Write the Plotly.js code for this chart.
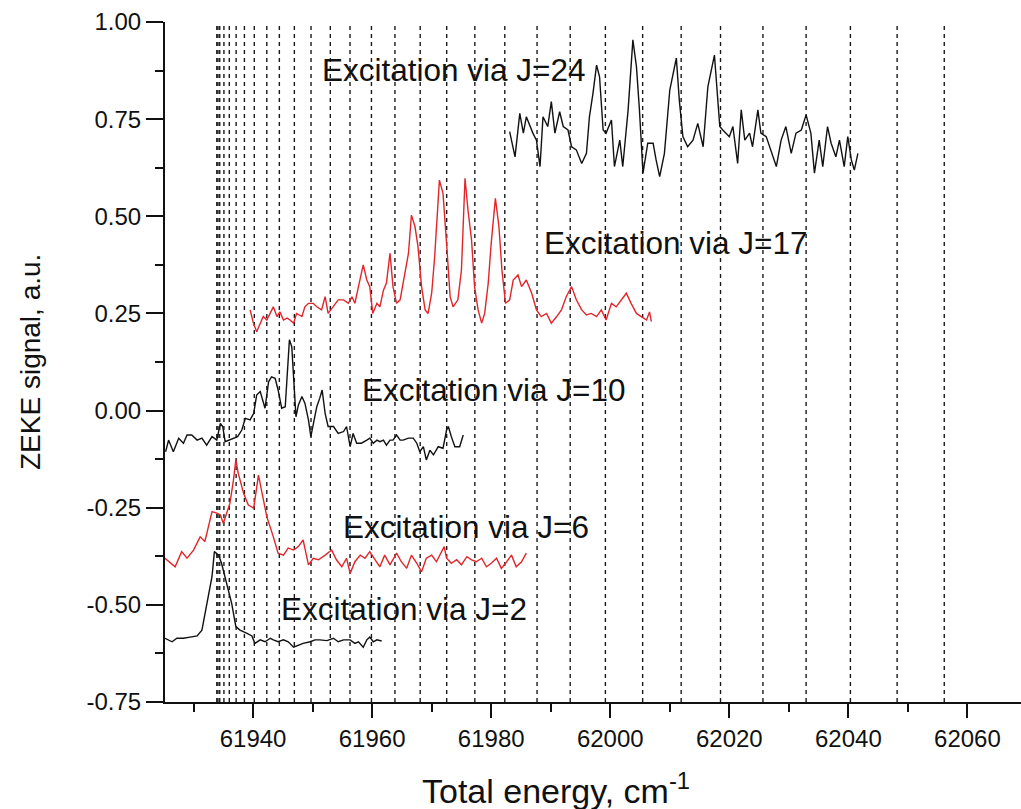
<!DOCTYPE html>
<html>
<head>
<meta charset="utf-8">
<script src="https://cdn.plot.ly/plotly-3.0.1.min.js"></script>
<style>html,body{margin:0;padding:0;background:#fff;}#chart{width:1021px;height:809px;}</style>
</head>
<body>
<div id="chart"></div>
<script>
// Reference line positions (cm^-1)
const lineX = [61933.9, 61934.1, 61934.4, 61935.1, 61936.0, 61937.15, 61938.54, 61940.2, 61942.3, 61944.41,
  61946.93, 61949.73, 61952.97, 61956.28, 61959.88, 61963.83, 61968.07, 61972.52, 61977.25, 61982.28,
  61987.7, 61993.27, 61999.18, 62005.44, 62011.91, 62018.52, 62025.65, 62032.9, 62040.34, 62048.19, 62056.11];

// Excitation via J=24 (black)
const j24x = [61983.1,61984.0,61984.8,61985.4,61985.9,61986.5,61987.0,61987.6,61988.2,61988.7,61989.5,61990.1,61990.7,61991.5,61992.1,61992.9,61993.5,61994.3,61995.2,61996.0,61996.5,61997.1,61997.7,61998.2,61998.8,61999.3,62000.2,62000.7,62001.6,62002.1,62003.0,62003.8,62004.4,62004.9,62005.5,62006.3,62007.2,62007.7,62008.3,62009.1,62010.0,62011.1,62011.6,62012.2,62013.0,62013.9,62014.7,62015.6,62016.4,62017.5,62018.4,62018.9,62020.0,62020.6,62021.4,62022.0,62022.6,62023.4,62023.9,62024.8,62025.3,62026.2,62027.0,62027.9,62028.7,62029.5,62030.4,62031.2,62032.1,62032.9,62033.7,62034.3,62035.1,62035.7,62036.5,62037.1,62037.9,62038.5,62039.3,62039.9,62040.5,62041.0,62041.6];
const j24y = [0.718,0.653,0.765,0.714,0.756,0.731,0.714,0.696,0.628,0.756,0.731,0.795,0.714,0.769,0.731,0.722,0.679,0.671,0.636,0.662,0.756,0.817,0.889,0.859,0.722,0.714,0.748,0.628,0.696,0.628,0.774,0.954,0.885,0.774,0.611,0.688,0.688,0.645,0.602,0.662,0.825,0.907,0.799,0.705,0.679,0.696,0.739,0.679,0.834,0.915,0.731,0.722,0.705,0.731,0.636,0.774,0.696,0.714,0.679,0.774,0.714,0.705,0.671,0.628,0.696,0.731,0.662,0.714,0.722,0.761,0.714,0.611,0.696,0.628,0.731,0.688,0.653,0.696,0.628,0.705,0.645,0.619,0.662];

// Excitation via J=17 (red)
const j17x = [61939.5,61940.05,61940.6,61941.2,61941.7,61942.3,61942.9,61943.4,61944.0,61944.5,61945.1,61945.7,61946.2,61946.8,61947.3,61948.2,61948.7,61949.3,61950.1,61950.7,61951.5,61952.1,61952.6,61953.5,61954.3,61955.2,61956.0,61956.6,61957.1,61957.7,61958.5,61959.1,61959.6,61960.1,61960.8,61961.3,61961.9,61962.4,61963.0,61963.5,61964.1,61964.7,61965.5,61966.1,61966.6,61967.2,61967.7,61968.3,61968.9,61969.4,61970.0,61970.5,61971.3,61971.9,61972.5,61973.1,61973.6,61974.4,61975.0,61975.6,61976.1,61976.7,61977.2,61977.8,61978.4,61978.9,61979.5,61980.0,61980.7,61981.3,61981.8,61982.4,61983.1,61983.7,61984.5,61985.1,61985.9,61986.8,61987.6,61988.4,61989.3,61990.1,61991.0,61991.8,61992.6,61993.5,61994.3,61995.2,61996.0,61996.8,61997.7,61998.5,61999.3,62000.2,62001.0,62001.9,62002.7,62003.5,62004.4,62005.2,62006.1,62006.6,62006.9];
const j17y = [0.259,0.225,0.203,0.225,0.242,0.233,0.250,0.267,0.242,0.254,0.233,0.238,0.233,0.225,0.250,0.242,0.267,0.276,0.276,0.267,0.259,0.293,0.250,0.267,0.285,0.285,0.276,0.293,0.276,0.319,0.375,0.336,0.319,0.250,0.276,0.267,0.310,0.328,0.405,0.319,0.276,0.285,0.353,0.405,0.503,0.473,0.422,0.319,0.259,0.250,0.302,0.396,0.593,0.559,0.431,0.293,0.267,0.285,0.362,0.598,0.516,0.439,0.319,0.259,0.225,0.250,0.328,0.431,0.546,0.473,0.362,0.276,0.285,0.336,0.349,0.319,0.336,0.302,0.259,0.242,0.250,0.225,0.242,0.259,0.293,0.319,0.285,0.259,0.246,0.250,0.242,0.259,0.233,0.276,0.267,0.285,0.302,0.276,0.250,0.242,0.233,0.254,0.229];

// Excitation via J=10 (black)
const j10x = [61925.3,61925.8,61926.6,61927.5,61928.3,61928.9,61929.7,61930.6,61931.4,61932.2,61933.1,61933.9,61934.5,61934.9,61935.3,61935.9,61936.7,61937.4,61938.1,61938.7,61939.5,61940.1,61940.6,61941.2,61942.0,61942.6,61943.1,61943.7,61944.2,61944.8,61945.4,61945.8,61946.1,61946.5,61946.8,61947.2,61947.6,61948.2,61948.7,61949.3,61949.7,61950.1,61950.7,61951.2,61951.6,61952.1,61952.6,61953.5,61954.3,61955.2,61955.7,61956.3,61956.8,61957.4,61958.2,61959.1,61959.6,61960.2,61960.8,61961.3,61961.9,61962.4,61963.0,61963.5,61964.1,61964.7,61965.2,61966.1,61966.9,61967.5,61968.0,61968.6,61969.1,61969.7,61970.3,61971.1,61971.9,61972.5,61972.8,61973.3,61973.9,61974.7,61975.3];
const j10y = [-0.106,-0.076,-0.106,-0.071,-0.084,-0.063,-0.063,-0.076,-0.071,-0.089,-0.067,-0.076,-0.033,-0.041,-0.080,-0.076,-0.071,-0.067,-0.050,-0.020,-0.024,-0.007,0.040,0.049,0.006,0.074,0.087,0.083,0.053,0.006,0.010,0.130,0.182,0.164,0.070,-0.016,0.014,0.036,0.019,-0.024,-0.067,-0.033,0.010,0.032,0.053,-0.007,-0.041,-0.041,-0.059,-0.054,-0.041,-0.093,-0.059,-0.084,-0.084,-0.076,-0.071,-0.084,-0.076,-0.080,-0.076,-0.089,-0.076,-0.076,-0.063,-0.076,-0.076,-0.071,-0.071,-0.084,-0.106,-0.093,-0.127,-0.102,-0.114,-0.093,-0.097,-0.050,-0.041,-0.067,-0.093,-0.093,-0.063];

// Excitation via J=6 (red)
const j6x = [61925.2,61926.9,61928.0,61928.9,61930.0,61931.1,61931.9,61933.1,61933.9,61934.5,61935.0,61936.1,61936.7,61937.1,61937.5,61938.4,61939.2,61940.1,61940.9,61941.5,61942.3,61943.4,61944.2,61945.1,61945.9,61946.8,61947.6,61948.4,61949.3,61950.1,61951.0,61952.1,61953.2,61954.0,61954.9,61955.7,61956.3,61957.1,61958.0,61958.8,61959.6,61960.5,61961.3,61962.1,61963.0,61964.1,61964.9,61965.8,61966.6,61967.5,61968.3,61969.1,61970.0,61970.8,61971.4,61972.1,61972.5,61973.3,61974.2,61975.0,61975.9,61976.7,61977.5,61978.4,61979.2,61980.0,61980.9,61981.7,61982.6,61983.4,61984.2,61985.1,61985.9];
const j6y = [-0.380,-0.402,-0.363,-0.380,-0.359,-0.325,-0.337,-0.260,-0.264,-0.269,-0.290,-0.239,-0.179,-0.127,-0.161,-0.213,-0.243,-0.251,-0.166,-0.213,-0.273,-0.325,-0.367,-0.372,-0.354,-0.359,-0.350,-0.333,-0.397,-0.380,-0.384,-0.372,-0.359,-0.384,-0.402,-0.380,-0.419,-0.389,-0.372,-0.380,-0.363,-0.384,-0.402,-0.372,-0.397,-0.367,-0.389,-0.406,-0.372,-0.393,-0.415,-0.380,-0.372,-0.389,-0.372,-0.350,-0.380,-0.393,-0.384,-0.397,-0.376,-0.384,-0.389,-0.380,-0.402,-0.393,-0.380,-0.406,-0.389,-0.372,-0.402,-0.389,-0.367];

// Excitation via J=2 (black)
const j2x = [61925.2,61926.4,61927.2,61928.3,61929.4,61930.6,61931.4,61932.2,61933.1,61933.5,61934.2,61934.7,61935.6,61936.4,61937.1,61937.8,61938.9,61939.8,61940.3,61941.2,61942.0,61942.9,61943.4,61944.2,61945.1,61945.9,61946.8,61947.6,61948.4,61949.6,61950.4,61951.2,61952.4,61953.5,61954.3,61955.2,61956.3,61957.1,61957.7,61958.5,61959.1,61959.6,61960.2,61960.8,61961.6];
const j2y = [-0.586,-0.595,-0.586,-0.586,-0.583,-0.580,-0.565,-0.496,-0.427,-0.363,-0.372,-0.393,-0.444,-0.496,-0.556,-0.565,-0.573,-0.580,-0.599,-0.590,-0.595,-0.586,-0.590,-0.595,-0.590,-0.595,-0.609,-0.603,-0.599,-0.595,-0.590,-0.590,-0.592,-0.586,-0.595,-0.590,-0.590,-0.599,-0.595,-0.609,-0.590,-0.583,-0.595,-0.590,-0.593];

const labels = ["Excitation via J=24", "Excitation via J=17", "Excitation via J=10", "Excitation via J=6", "Excitation via J=2"];
const yTickVals = [-0.75, -0.5, -0.25, 0, 0.25, 0.5, 0.75, 1.0];
const yTickText = ["-0.75", "-0.50", "-0.25", "0.00", "0.25", "0.50", "0.75", "1.00"];
const xTickVals = [61940, 61960, 61980, 62000, 62020, 62040, 62060];
const xTitle = "Total energy, cm<sup>-1</sup>";
const yTitle = "ZEKE signal, a.u.";

const Y_MIN = -0.75, Y_MAX = 1.0;
const BLACK = "#111111", RED = "#e0262b";

// build dashed reference lines from lineX
const dx = [], dy = [];
lineX.forEach(v => { dx.push(v, v, null); dy.push(Y_MIN, Y_MAX, null); });

const traces = [
  {x: dx, y: dy, mode: "lines", line: {color: "#1a1a1a", width: 1.4, dash: "4px,4px"}, hoverinfo: "skip"},
  {x: j24x, y: j24y, mode: "lines", line: {color: BLACK, width: 1.4}},
  {x: j17x, y: j17y, mode: "lines", line: {color: RED, width: 1.4}},
  {x: j10x, y: j10y, mode: "lines", line: {color: BLACK, width: 1.4}},
  {x: j6x, y: j6y, mode: "lines", line: {color: RED, width: 1.4}},
  {x: j2x, y: j2y, mode: "lines", line: {color: BLACK, width: 1.4}}
];

const FONT = "Liberation Sans, Arial, sans-serif";
const L = 165, PW = 1021 - 165, T = 22, PH = 680;

const annPos = [[61973.7, 0.876], [62011.1, 0.431], [61980.4, 0.053], [61975.7, -0.300], [61965.3, -0.511]];
const annotations = labels.map((t, i) => ({
  x: annPos[i][0], y: annPos[i][1], xref: "x", yref: "y", text: t, showarrow: false,
  font: {family: FONT, size: 31.5, color: "#111"}
}));
annotations.push({
  x: (556 - L) / PW, xref: "paper", y: -(788 - T - PH) / PH, yref: "paper", text: xTitle, showarrow: false,
  xanchor: "center", yanchor: "middle", font: {family: FONT, size: 34, color: "#111"}
});
annotations.push({
  x: (30 - L) / PW, xref: "paper", y: 0.5, yref: "paper", text: yTitle, showarrow: false, textangle: -90,
  xanchor: "center", yanchor: "middle", font: {family: FONT, size: 28, color: "#111"}
});

const layout = {
  width: 1021, height: 809,
  margin: {l: L, r: 0, t: T, b: 809 - T - PH},
  paper_bgcolor: "#fff", plot_bgcolor: "#fff",
  showlegend: false,
  font: {family: FONT, color: "#111"},
  xaxis: {
    range: [61925.2, 62069],
    tickvals: xTickVals, tickformat: "d",
    ticks: "outside", ticklen: 14, tickwidth: 2, tickcolor: "#111",
    minor: {ticks: "outside", ticklen: 8, tickwidth: 2, tickcolor: "#111", dtick: 10, tick0: 61930},
    showline: true, linewidth: 2, linecolor: "#111",
    showgrid: false, zeroline: false,
    tickfont: {size: 24, family: FONT}
  },
  yaxis: {
    range: [Y_MIN, Y_MAX],
    tickvals: yTickVals, ticktext: yTickText,
    ticks: "outside", ticklen: 17, tickwidth: 2, tickcolor: "#111",
    minor: {ticks: "outside", ticklen: 8, tickwidth: 2, tickcolor: "#111", dtick: 0.125, tick0: -0.75},
    showline: true, linewidth: 2, linecolor: "#111",
    showgrid: false, zeroline: false,
    tickfont: {size: 24, family: FONT}
  },
  annotations: annotations
};

Plotly.newPlot("chart", traces, layout, {displayModeBar: false, staticPlot: true});
</script>
</body>
</html>
